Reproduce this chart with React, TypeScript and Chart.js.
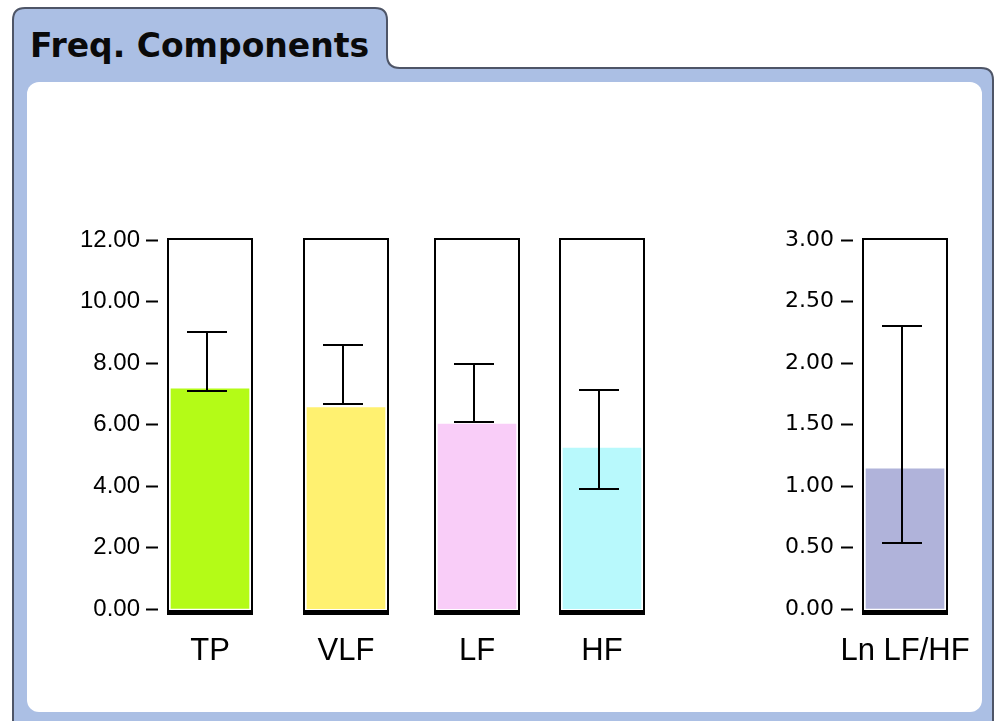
import React, { useEffect, useRef } from 'react';
import { Chart, registerables } from 'chart.js';

Chart.register(...registerables);

// ---- data ----
const categories = ['TP', 'VLF', 'LF', 'HF'];
const values = [7.16, 6.55, 6.01, 5.23];
const errLow = [7.1, 6.68, 6.07, 3.9];
const errHigh = [9.02, 8.6, 7.98, 7.11];
const powerTicks = [0, 2, 4, 6, 8, 10, 12];

const ratioLabel = 'Ln LF/HF';
const ratioValue = 1.14;
const ratioLow = 0.54;
const ratioHigh = 2.3;
const ratioTicks = [0, 0.5, 1, 1.5, 2, 2.5, 3];

const titleText = 'Freq. Components';

// ---- styles / layout ----
const barColors = ['#b4fb17', '#fff170', '#f9cdf8', '#b8f9fc'];
const ratioColor = '#b0b3da';
const boxLefts = [167, 303, 434, 559];
const ratioBoxLeft = 862;
const BOX_W = 86;
const GAP = 9;
const PAD_L = 2;
const PAD_R = 40;
const CANVAS_TOP = 220;
const CANVAS_H = 460;
const PAD_TOP = 20;
const X_AXIS_H = 71;

type Panel = {
  label: string;
  value: number;
  low: number;
  high: number;
  color: string;
  max: number;
  ticks: number[];
  showAxis: boolean;
  boxLeft: number;
  yW: number;
  tickPad: number;
  tickFont: { family: string; size: number };
  padL: number;
};

const sansTick = { family: '"Liberation Sans", Arial, sans-serif', size: 24 };
const ratioTickFont = { family: '"DejaVu Sans", Verdana, sans-serif', size: 22 };

const panels: Panel[] = [
  ...categories.map((c, i) => ({
    label: c,
    value: values[i],
    low: errLow[i],
    high: errHigh[i],
    color: barColors[i],
    max: 12,
    ticks: powerTicks,
    showAxis: i === 0,
    boxLeft: boxLefts[i],
    yW: 78,
    tickPad: 6,
    tickFont: sansTick,
    padL: i === 0 ? PAD_L : PAD_R,
  })),
  {
    label: ratioLabel,
    value: ratioValue,
    low: ratioLow,
    high: ratioHigh,
    color: ratioColor,
    max: 3,
    ticks: ratioTicks,
    showAxis: true,
    boxLeft: ratioBoxLeft,
    yW: 76,
    tickPad: 7,
    tickFont: ratioTickFont,
    padL: PAD_L,
  },
];

function axisW(p: Panel) {
  return p.showAxis ? p.yW : 0;
}
function canvasLeft(p: Panel) {
  return p.boxLeft - GAP - axisW(p) - p.padL;
}
function canvasWidth(p: Panel) {
  return p.padL + axisW(p) + 2 * GAP + BOX_W + PAD_R;
}

function makeChart(canvas: HTMLCanvasElement, p: Panel) {
  const framePlugin = {
    id: 'frameBox',
    beforeDatasetsDraw(chart: any) {
      const ctx = chart.ctx;
      const meta = chart.getDatasetMeta(0);
      const cx = meta.data[0].x;
      const left = Math.round(cx - BOX_W / 2);
      const ys = chart.scales.y;
      const top = Math.round(ys.getPixelForValue(p.max)) - 2;
      const zero = Math.round(ys.getPixelForValue(0));
      const bottom = zero + 6;
      ctx.save();
      ctx.strokeStyle = '#000';
      ctx.lineWidth = 2;
      ctx.beginPath();
      ctx.moveTo(left + 1, bottom);
      ctx.lineTo(left + 1, top + 1);
      ctx.lineTo(left + BOX_W - 1, top + 1);
      ctx.lineTo(left + BOX_W - 1, bottom);
      ctx.stroke();
      ctx.restore();
    },
    afterDatasetsDraw(chart: any) {
      const ctx = chart.ctx;
      const meta = chart.getDatasetMeta(0);
      const cx = meta.data[0].x;
      const left = Math.round(cx - BOX_W / 2);
      const ys = chart.scales.y;
      const zero = Math.round(ys.getPixelForValue(0));
      ctx.save();
      ctx.fillStyle = '#000';
      ctx.fillRect(left, zero + 1, BOX_W, 5);
      // error bar
      const ex = Math.round(cx) - 3;
      const yLo = Math.round(ys.getPixelForValue(p.low));
      const yHi = Math.round(ys.getPixelForValue(p.high));
      ctx.strokeStyle = '#000';
      ctx.lineWidth = 2;
      ctx.beginPath();
      ctx.moveTo(ex, yHi);
      ctx.lineTo(ex, yLo);
      ctx.moveTo(ex - 20, yHi);
      ctx.lineTo(ex + 20, yHi);
      ctx.moveTo(ex - 20, yLo);
      ctx.lineTo(ex + 20, yLo);
      ctx.stroke();
      ctx.restore();
    },
  };

  return new Chart(canvas, {
    type: 'bar',
    data: {
      labels: [p.label],
      datasets: [
        {
          data: [p.value],
          backgroundColor: p.color,
          borderWidth: 0,
          barThickness: 78,
        },
      ],
    },
    options: {
      animation: false,
      responsive: false,
      events: [],
      layout: { padding: { left: p.padL, right: PAD_R, top: PAD_TOP, bottom: 0 } },
      plugins: {
        legend: { display: false },
        tooltip: { enabled: false },
        title: { display: false },
      },
      scales: {
        x: {
          grid: { display: false },
          border: { display: false },
          ticks: {
            color: '#000',
            font: { family: '"Liberation Sans", Arial, sans-serif', size: 31 },
            padding: 16,
            maxRotation: 0,
            autoSkip: false,
          },
          afterFit: (s: any) => {
            s.height = X_AXIS_H;
            s.paddingLeft = 0;
            s.paddingRight = 0;
          },
        },
        y: {
          display: p.showAxis,
          min: 0,
          max: p.max,
          grid: {
            drawOnChartArea: false,
            drawTicks: true,
            tickLength: 12,
            tickWidth: 2,
            tickColor: '#000',
          },
          border: { display: false },
          ticks: {
            color: '#000',
            font: p.tickFont,
            padding: p.tickPad,
            callback: (v: any) => Number(v).toFixed(2),
          },
          afterBuildTicks: (s: any) => {
            s.ticks = p.ticks.map((v) => ({ value: v }));
          },
          afterFit: (s: any) => {
            s.width = axisW(p);
            s.paddingTop = 0;
            s.paddingBottom = 0;
          },
        },
      },
    },
    plugins: [framePlugin],
  } as any);
}

export default function App() {
  const refs = useRef<(HTMLCanvasElement | null)[]>([]);

  useEffect(() => {
    const charts = panels.map((p, i) => makeChart(refs.current[i] as HTMLCanvasElement, p));
    return () => charts.forEach((c) => c.destroy());
  }, []);

  return (
    <div
      style={{
        position: 'absolute',
        left: 0,
        top: 0,
        width: 1000,
        height: 721,
        overflow: 'hidden',
        background: '#fff',
      }}
    >
      <svg width={1000} height={721} style={{ position: 'absolute', left: 0, top: 0 }}>
        <path
          d="M13,740 L13,20 Q13,8 25,8 L375,8 Q387,8 387,20 L387,55 Q387,68 400,68 L981,68 Q993,68 993,80 L993,740 Z"
          fill="#abbfe4"
          stroke="#4e5567"
          strokeWidth={2}
        />
        <rect x={27} y={82} width={955} height={630} rx={12} ry={12} fill="#ffffff" />
      </svg>
      <div
        style={{
          position: 'absolute',
          left: 30,
          top: 29,
          fontFamily: '"DejaVu Sans", Verdana, sans-serif',
          fontWeight: 'bold',
          fontSize: 33,
          lineHeight: 1,
          color: '#0a0a0a',
          whiteSpace: 'nowrap',
        }}
      >
        {titleText}
      </div>
      {panels.map((p, i) => (
        <canvas
          key={p.label}
          ref={(el) => {
            refs.current[i] = el;
          }}
          width={canvasWidth(p)}
          height={CANVAS_H}
          style={{
            position: 'absolute',
            left: canvasLeft(p),
            top: CANVAS_TOP,
            width: canvasWidth(p),
            height: CANVAS_H,
          }}
        />
      ))}
    </div>
  );
}
